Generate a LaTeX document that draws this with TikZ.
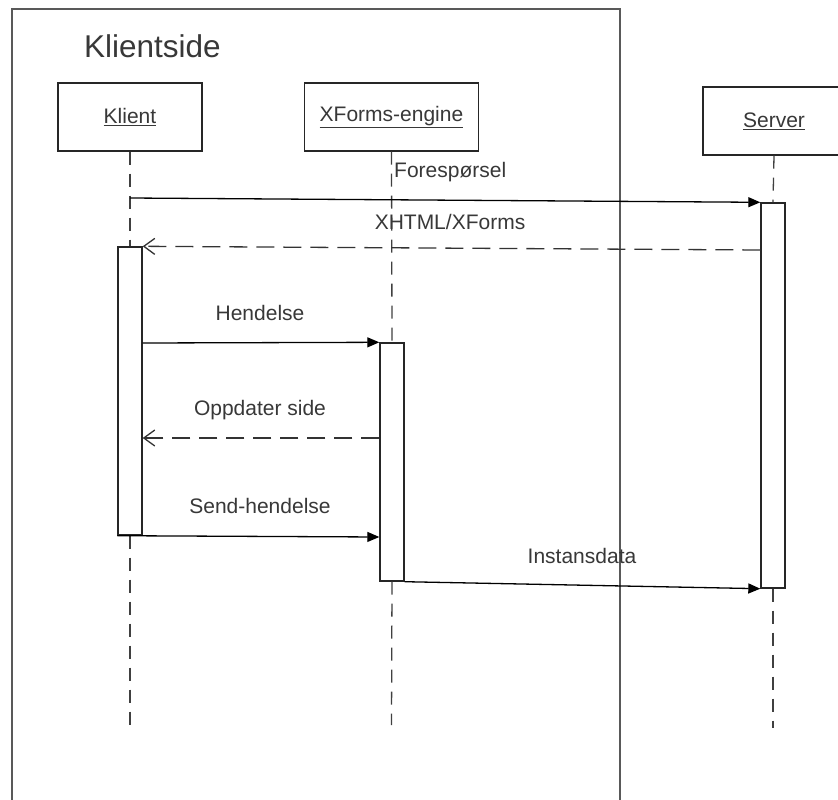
\documentclass[tikz,border=0pt]{standalone}
\usepackage{fontspec}
\setmainfont{Liberation Sans}
\usetikzlibrary{arrows.meta,calc}
\begin{document}
\begin{tikzpicture}[x=1pt,y=-1pt,
  every node/.style={font=\fontsize{21}{25}\selectfont, text=black!78},
  actor/.style={draw=black!85, line width=1.4pt, fill=white, minimum height=68pt, inner sep=0pt},
  act/.style={draw=black!85, line width=1.4pt, fill=white, minimum width=24pt, inner sep=0pt},
  life/.style={draw=black!75, line width=1.3pt, dash pattern=on 13pt off 9pt},
  call/.style={draw=black, line width=1.3pt, -{Triangle[length=12pt,width=10pt]}},
  reply/.style={draw=black!80, line width=1.3pt, dash pattern=on 18pt off 9pt, -{Straight Barb[length=11pt,width=16pt]}},
  msg/.style={inner sep=0pt},
  frame/.style={draw=black!65, line width=1.6pt}
]
\clip (0,0) rectangle (838,800);
\fill[white] (0,0) rectangle (838,800);

% client-side frame (open at the bottom)
\draw[frame] (12,800) -- (12,9) -- (620,9) -- (620,800);
\node[anchor=west, inner sep=0pt, font=\fontsize{31.5}{38}\selectfont] (side) at (84,46) {Klientside};

% participants
\node[actor, minimum width=144pt] (kl) at (130,117) {\underline{Klient}};
\node[actor, minimum width=174pt] (xf) at (391.5,117) {\underline{XForms-engine}};
\node[actor, minimum width=142pt] (sv) at (774,121) {\underline{Server}};

% lifeline end points and message heights
\coordinate (kq) at (130,198);
\coordinate (kend) at (130,728);
\coordinate (xend) at (391.5,725);
\coordinate (send) at (773,728);
\path (0,250) coordinate (h1) (0,343) coordinate (h2) (0,438) coordinate (h3) (0,537) coordinate (h4);

% activation bars
\node[act, minimum height=288pt] (actK) at (130,391) {};
\node[act, minimum height=238pt] (actX) at (392,462) {};
\node[act, minimum height=385pt] (actS) at (773,395.5) {};

% lifelines
\draw[life] (kl.south) -- (actK.north);
\draw[life] (actK.south) -- (kend);
\draw[life] (xf.south) -- (actX.north);
\draw[life] (actX.south) -- (xend);
\draw[life] (sv.south) -- (actS.north);
\draw[life] (actS.south) -- (send);

% messages
\draw[call] (kq) -- (actS.north west);
\draw[reply] (actS.west |- h1) -- (actK.north east);
\draw[call] (actK.east |- h2) -- (actX.north west);
\draw[reply] (actX.west |- h3) -- (actK.east |- h3);
\draw[call] (actK.south west) -- (actX.west |- h4);
\draw[call] (actX.south east) -- (actS.south west);

% message labels
\node[msg, anchor=west] (l1) at (394,172) {Forespørsel};
\node[msg] (l2) at (450,222) {XHTML/XForms};
\node[msg] (l3) at (260,313) {Hendelse};
\node[msg] (l4) at (260,410) {Oppdater side};
\node[msg] (l5) at (260,506) {Send-hendelse};
\node[msg] (l6) at (582,556) {Instansdata};
\end{tikzpicture}
\end{document}
